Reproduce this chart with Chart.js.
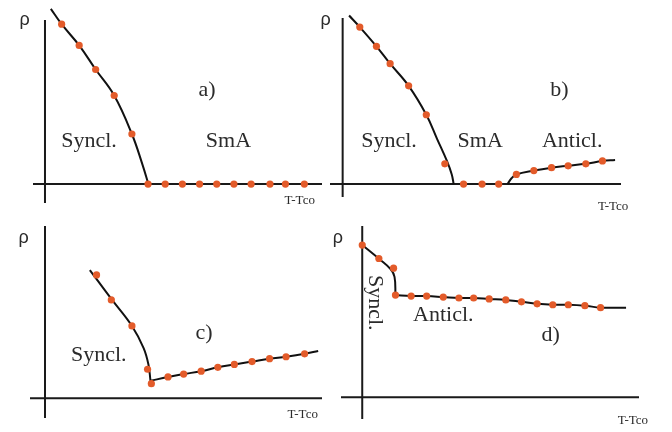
<!DOCTYPE html>
<html>
<head>
<meta charset="utf-8">
<script src="https://cdn.jsdelivr.net/npm/chart.js@4"></script>
<style>
  body { margin: 0; background: #fff; }
  #wrap { position: relative; width: 672px; height: 432px; overflow: hidden; }
  #wrap canvas { position: absolute; }
</style>
</head>
<body>
<div id="wrap">
  <canvas id="pa"></canvas>
  <canvas id="pb"></canvas>
  <canvas id="pc"></canvas>
  <canvas id="pd"></canvas>
</div>
<script>
// Order parameter rho vs T - Tco, four cases.
// x in steps of T - Tco, y in arbitrary units of rho.

// a) synclinic -> SmA
const aSynX = [0.34, 0.97, 1.99, 2.95, 4.03, 5.06, 5.68, 6.02];
const aSynY = [9.1, 8.3, 7.2, 5.95, 4.6, 2.6, 1.0, 0];
const aDotX = [0.97, 1.99, 2.95, 4.03, 5.06, 6, 7, 8, 9, 10, 11, 12, 13.1, 14, 15.1];
const aDotY = [8.3, 7.2, 5.95, 4.6, 2.6, 0, 0, 0, 0, 0, 0, 0, 0, 0, 0];

// b) synclinic -> SmA -> anticlinic
const bSynX = [0.37, 0.99, 1.95, 2.74, 3.81, 4.83, 5.45, 6.02, 6.3, 6.41];
const bSynY = [8.75, 8.15, 7.15, 6.25, 5.1, 3.6, 2.35, 1.2, 0.5, 0];
const bAntX = [9.52, 9.75, 10.03, 11.04, 12.06, 13.02, 14.04, 15.0, 15.73];
const bAntY = [0, 0.3, 0.5, 0.7, 0.85, 0.95, 1.05, 1.2, 1.25];
const bDotX = [0.99, 1.95, 2.74, 3.81, 4.83, 5.9, 6.98, 8.05, 9.01, 10.03, 11.04, 12.06, 13.02, 14.04, 15.0];
const bDotY = [8.15, 7.15, 6.25, 5.1, 3.6, 1.05, 0, 0, 0, 0.5, 0.7, 0.85, 0.95, 1.05, 1.2];

// c) synclinic -> anticlinic through a minimum
const cSynX = [2.61, 3.86, 5.06, 5.74, 6.02, 6.14];
const cSynY = [6.65, 5.15, 3.75, 2.6, 1.75, 0.9];
const cAntX = [6.14, 7.16, 8.07, 9.09, 10.06, 11.02, 12.05, 13.07, 14.03, 15.11, 15.9];
const cAntY = [0.9, 1.1, 1.25, 1.4, 1.6, 1.75, 1.9, 2.05, 2.15, 2.3, 2.45];
const cDotX = [3.0, 3.86, 5.06, 5.97, 6.19, 7.16, 8.07, 9.09, 10.06, 11.02, 12.05, 13.07, 14.03, 15.11];
const cDotY = [6.4, 5.1, 3.75, 1.5, 0.75, 1.1, 1.25, 1.4, 1.6, 1.75, 1.9, 2.05, 2.15, 2.3];

// d) synclinic -> anticlinic with a jump
const dSynX = [0, 1.11, 1.79, 2.04, 2.1];
const dSynY = [7.9, 7.15, 6.65, 6.25, 5.3];
const dAntX = [2.1, 3.09, 4.07, 5.12, 6.11, 7.04, 8.02, 9.07, 10.06, 11.05, 12.04, 13.02, 14.07, 15.06, 16.67];
const dAntY = [5.3, 5.25, 5.25, 5.2, 5.15, 5.15, 5.1, 5.05, 4.95, 4.85, 4.8, 4.8, 4.75, 4.65, 4.65];
const dDotX = [0, 1.05, 1.98, 2.1, 3.09, 4.07, 5.12, 6.11, 7.04, 8.02, 9.07, 10.06, 11.05, 12.04, 13.02, 14.07, 15.06];
const dDotY = [7.9, 7.2, 6.7, 5.3, 5.25, 5.25, 5.2, 5.15, 5.15, 5.1, 5.05, 4.95, 4.85, 4.8, 4.8, 4.75, 4.65];

const DOT = "#e35b2a";
const INK = "#2b2b2b";
const SERIF = "'Liberation Serif', 'DejaVu Serif', serif";
const SANS = "'Liberation Sans', Arial, sans-serif";

function pts(xs, ys) {
	return xs.map((x, i) => ({ x: x, y: ys[i] }));
}

function curve(xs, ys) {
	return {
		data: pts(xs, ys),
		showLine: true,
		borderColor: "#111",
		borderWidth: 2,
		pointRadius: 0,
		tension: 0.4,
		clip: false,
	};
}

function dots(xs, ys) {
	return {
		data: pts(xs, ys),
		showLine: false,
		pointRadius: 3.6,
		pointBackgroundColor: DOT,
		pointBorderWidth: 0,
		clip: false,
	};
}

// axes, rho / T-Tco captions and phase names
const panelDecor = {
	id: "panelDecor",
	beforeDatasetsDraw(chart) {
		const p = chart.options.plugins.panelDecor;
		const ctx = chart.ctx;
		const x0 = chart.scales.x.getPixelForValue(0);
		const y0 = chart.scales.y.getPixelForValue(0);
		ctx.save();
		ctx.strokeStyle = "#1a1a1a";
		ctx.lineWidth = 2;
		ctx.beginPath();
		ctx.moveTo(p.xLeft - p.left, y0);
		ctx.lineTo(p.xRight - p.left, y0);
		ctx.moveTo(x0, p.yTop - p.top);
		ctx.lineTo(x0, p.yBottom - p.top);
		ctx.stroke();
		ctx.restore();
	},
	afterDatasetsDraw(chart) {
		const p = chart.options.plugins.panelDecor;
		const ctx = chart.ctx;
		ctx.save();
		ctx.fillStyle = INK;
		ctx.textAlign = "center";
		ctx.textBaseline = "middle";
		p.labels.forEach((l) => {
			const px = chart.scales.x.getPixelForValue(l.x);
			const py = chart.scales.y.getPixelForValue(l.y);
			ctx.font = l.font;
			ctx.save();
			ctx.translate(px, py);
			if (l.rot) ctx.rotate(l.rot);
			ctx.fillText(l.text, 0, 0);
			ctx.restore();
		});
		ctx.restore();
	},
};

function makePanel(id, g, datasets, labels) {
	const cv = document.getElementById(id);
	cv.width = g.w;
	cv.height = g.h;
	cv.style.left = g.left + "px";
	cv.style.top = g.top + "px";
	return new Chart(cv, {
		type: "scatter",
		data: { datasets: datasets },
		options: {
			responsive: false,
			animation: false,
			layout: { padding: 0 },
			scales: {
				x: { type: "linear", display: false, min: (g.left - g.ox) / g.ux, max: (g.left + g.w - g.ox) / g.ux },
				y: { type: "linear", display: false, min: (g.oy - g.top - g.h) / g.uy, max: (g.oy - g.top) / g.uy },
			},
			plugins: {
				legend: { display: false },
				tooltip: { enabled: false },
				panelDecor: Object.assign({ labels: labels }, g),
			},
		},
		plugins: [panelDecor],
	});
}

const big = "22px " + SERIF;
const small = "13px " + SERIF;
const rho = "18px " + SANS;

makePanel("pa",
	{ left: 0, top: 0, w: 332, h: 216, ox: 42, oy: 187, ux: 17.6, uy: 20, xLeft: 33, xRight: 322, yTop: 20, yBottom: 203 },
	[dots(aDotX, aDotY), curve(aSynX, aSynY)],
	[
		{ text: "ρ", x: -1.19, y: 8.5, font: rho },
		{ text: "a)", x: 9.43, y: 4.85, font: big },
		{ text: "Syncl.", x: 2.56, y: 2.2, font: big },
		{ text: "SmA", x: 10.68, y: 2.2, font: big },
		{ text: "T-Tco", x: 14.83, y: -0.85, font: small },
	]);

makePanel("pb",
	{ left: 300, top: 0, w: 372, h: 216, ox: 339.5, oy: 187, ux: 17.7, uy: 20, xLeft: 330, xRight: 621, yTop: 18, yBottom: 197 },
	[dots(bDotX, bDotY), curve(bSynX, bSynY), curve(bAntX, bAntY)],
	[
		{ text: "ρ", x: -0.99, y: 8.5, font: rho },
		{ text: "b)", x: 12.51, y: 4.85, font: big },
		{ text: "Syncl.", x: 2.68, y: 2.2, font: big },
		{ text: "SmA", x: 7.94, y: 2.2, font: big },
		{ text: "Anticl.", x: 13.25, y: 2.2, font: big },
		{ text: "T-Tco", x: 15.62, y: -1.15, font: small },
	]);

makePanel("pc",
	{ left: 0, top: 216, w: 336, h: 216, ox: 42, oy: 401, ux: 17.6, uy: 20, xLeft: 30, xRight: 322, yTop: 226, yBottom: 418 },
	[dots(cDotX, cDotY), curve(cSynX, cSynY), curve(cAntX, cAntY)],
	[
		{ text: "ρ", x: -1.25, y: 8.3, font: rho },
		{ text: "c)", x: 9.26, y: 3.35, font: big },
		{ text: "Syncl.", x: 3.13, y: 2.25, font: big },
		{ text: "T-Tco", x: 15.0, y: -0.85, font: small },
	]);

makePanel("pd",
	{ left: 326, top: 216, w: 346, h: 216, ox: 359, oy: 400, ux: 16.2, uy: 20, xLeft: 341, xRight: 639, yTop: 226, yBottom: 419 },
	[dots(dDotX, dDotY), curve(dSynX, dSynY), curve(dAntX, dAntY)],
	[
		{ text: "ρ", x: -1.54, y: 8.25, font: rho },
		{ text: "Syncl.", x: 0.8, y: 4.9, font: big, rot: Math.PI / 2 },
		{ text: "Anticl.", x: 5.12, y: 4.25, font: big },
		{ text: "d)", x: 11.9, y: 3.2, font: big },
		{ text: "T-Tco", x: 17.1, y: -1.2, font: small },
	]);
</script>
</body>
</html>
